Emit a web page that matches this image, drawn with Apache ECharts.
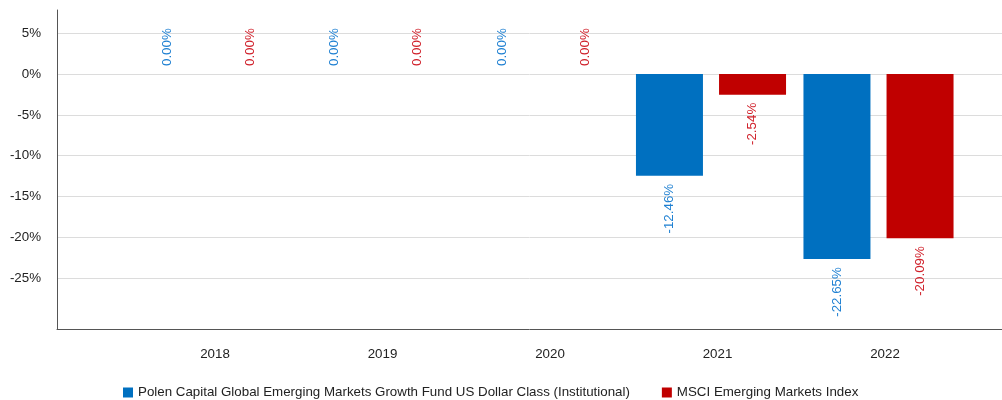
<!DOCTYPE html>
<html>
<head>
<meta charset="utf-8">
<script src="https://cdn.jsdelivr.net/npm/echarts@6/dist/echarts.min.js"></script>
<style>
  html, body { margin: 0; padding: 0; background: #fff; }
  #chart { width: 1002px; height: 400px; }
</style>
</head>
<body>
<div id="chart"></div>
<script>
var years = ['2018', '2019', '2020', '2021', '2022']
var fundName = 'Polen Capital Global Emerging Markets Growth Fund US Dollar Class (Institutional)'
var indexName = 'MSCI Emerging Markets Index'
var fundValues = [0, 0, 0, -12.46, -22.65]
var indexValues = [0, 0, 0, -2.54, -20.09]
var tickValues = [5, 0, -5, -10, -15, -20, -25]

var font = 'Liberation Sans, Arial, sans-serif'
var fs = 13.33
var yMin = -31.2
var yMax = 7.83

function barData(values) {
  // 0 values put the label above the line, negatives below the bar
  return values.map(function (v) {
    return {
      value: v,
      label: {
        position: v < 0 ? 'bottom' : 'top',
        align: v < 0 ? 'right' : 'left'
      }
    }
  })
}

function barSeries(name, values, color, labelColor) {
  return {
    name: name,
    type: 'bar',
    xAxisIndex: 2,
    yAxisIndex: 2,
    barWidth: 67,
    barGap: '24%',
    itemStyle: { color: color },
    label: {
      show: true,
      rotate: 90,
      distance: 8,
      verticalAlign: 'middle',
      color: labelColor,
      fontSize: fs,
      fontFamily: font,
      formatter: function (p) { return p.value.toFixed(2) + '%' }
    },
    data: barData(values)
  }
}

var chart = echarts.init(document.getElementById('chart'))
chart.setOption({
  animation: false,
  textStyle: { fontFamily: font },
  legend: {
    left: 118,
    top: 381,
    icon: 'rect',
    itemWidth: 10,
    itemHeight: 10,
    itemGap: 32,
    textStyle: { fontSize: fs, color: '#222', fontFamily: font },
    data: [fundName, indexName]
  },
  grid: [
    // frame lines
    { left: 57, right: 0, top: 10, bottom: 71 },
    // ticks + grid lines
    { left: 57, right: 0, top: 33.1, bottom: 121.7 },
    // bars
    { left: 124.75, right: 39.75, top: 10, bottom: 71 }
  ],
  xAxis: [
    {
      gridIndex: 0, type: 'value', min: 0, max: 1,
      axisLine: { show: true, onZero: false, lineStyle: { color: '#555', width: 1 } },
      axisTick: { show: false }, axisLabel: { show: false }, splitLine: { show: false }
    },
    {
      gridIndex: 1, type: 'value', min: 0, max: 1, show: false
    },
    {
      gridIndex: 2, type: 'category', data: years,
      axisLine: { show: false, onZero: false },
      axisTick: { show: false },
      axisLabel: { margin: 19, fontSize: fs, color: '#222', fontFamily: font, padding: [0, 0, 0, 13] }
    }
  ],
  yAxis: [
    {
      gridIndex: 0, type: 'value', min: yMin, max: yMax,
      axisLine: { show: true, onZero: false, lineStyle: { color: '#555', width: 1 } },
      axisTick: { show: false }, axisLabel: { show: false }, splitLine: { show: false }
    },
    {
      gridIndex: 1, type: 'value',
      min: tickValues[tickValues.length - 1], max: tickValues[0], interval: 5,
      axisLine: { show: false }, axisTick: { show: false },
      axisLabel: {
        margin: 16, fontSize: fs, color: '#222', fontFamily: font,
        formatter: function (v) { return v + '%' }
      },
      splitLine: { show: true, lineStyle: { color: '#dcdcdc', width: 1 } }
    },
    {
      gridIndex: 2, type: 'value', min: yMin, max: yMax, show: false
    }
  ],
  series: [
    barSeries(fundName, fundValues, '#0070C0', '#1f80d2'),
    barSeries(indexName, indexValues, '#C00000', '#d0202a')
  ]
})
</script>
</body>
</html>
